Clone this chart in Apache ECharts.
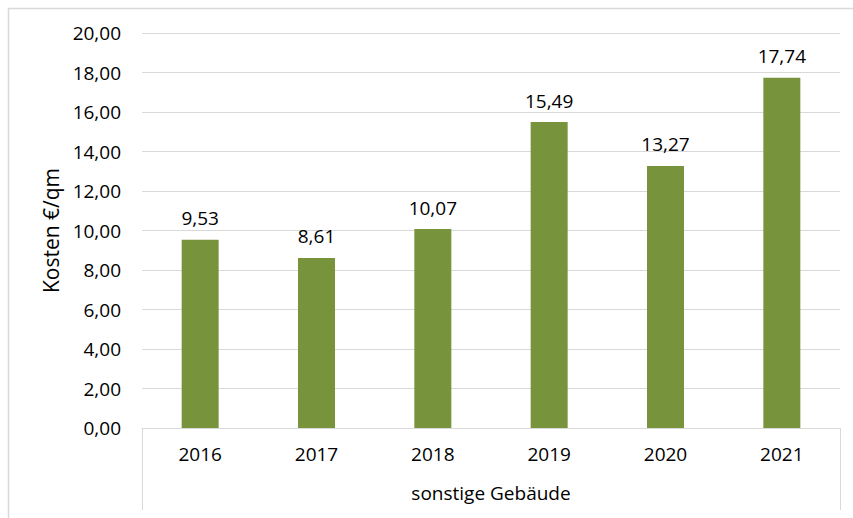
<!DOCTYPE html>
<html>
<head>
<meta charset="utf-8">
<script src="https://cdn.jsdelivr.net/npm/echarts@6/dist/echarts.min.js"></script>
<style>
  html, body { margin: 0; padding: 0; background: #fff; }
  #chart { width: 853px; height: 518px; }
</style>
</head>
<body>
<div id="chart"></div>
<script>
(function() {
  var years = ['2016', '2017', '2018', '2019', '2020', '2021'];
  var costs = [9.53, 8.61, 10.07, 15.49, 13.27, 17.74];
  var groupLabel = ['sonstige Gebäude'];

  var font = 'Open Sans';
  var fmt = function(v) { return Number(v).toFixed(2).replace('.', ','); };

  var chart = echarts.init(document.getElementById('chart'), null, {renderer: 'svg'});
  chart.setOption({
    animation: false,
    textStyle: {fontFamily: font},
    graphic: [{
      type: 'rect', left: 6, top: 6, silent: true,
      shape: {width: 900, height: 600},
      style: {fill: 'none', stroke: '#d9d9d9', lineWidth: 1.5}
    }],
    grid: {left: 142, right: 13, top: 33, bottom: 90},
    xAxis: [{
      type: 'category', data: years, position: 'bottom',
      axisLine: {lineStyle: {color: '#d9d9d9', width: 1}},
      axisTick: {show: false},
      axisLabel: {color: '#000', fontSize: 19, margin: 16, fontFamily: font}
    }, {
      type: 'category', data: groupLabel, position: 'bottom',
      axisLine: {show: false},
      axisTick: {show: true, length: 82, lineStyle: {color: '#d9d9d9', width: 1}},
      axisLabel: {color: '#000', fontSize: 19, margin: 55, fontFamily: font}
    }],
    yAxis: {
      type: 'value', min: 0, max: 20, interval: 2,
      name: 'Kosten €/qm', nameLocation: 'middle', nameGap: 78, nameRotate: 90,
      nameTextStyle: {color: '#000', fontSize: 21, fontFamily: font},
      axisLine: {show: false}, axisTick: {show: false},
      axisLabel: {color: '#000', fontSize: 19, margin: 21, formatter: fmt, fontFamily: font},
      splitLine: {lineStyle: {color: '#d9d9d9', width: 1}}
    },
    series: [{
      type: 'bar', data: costs, barWidth: 37, xAxisIndex: 0,
      itemStyle: {color: '#77933c'},
      label: {show: true, position: 'top', distance: 12, color: '#000', fontSize: 19,
        fontFamily: font, formatter: function(p) { return fmt(p.value); }}
    }]
  });
  window.addEventListener('resize', function() { chart.resize(); });
})();
</script>
</body>
</html>
